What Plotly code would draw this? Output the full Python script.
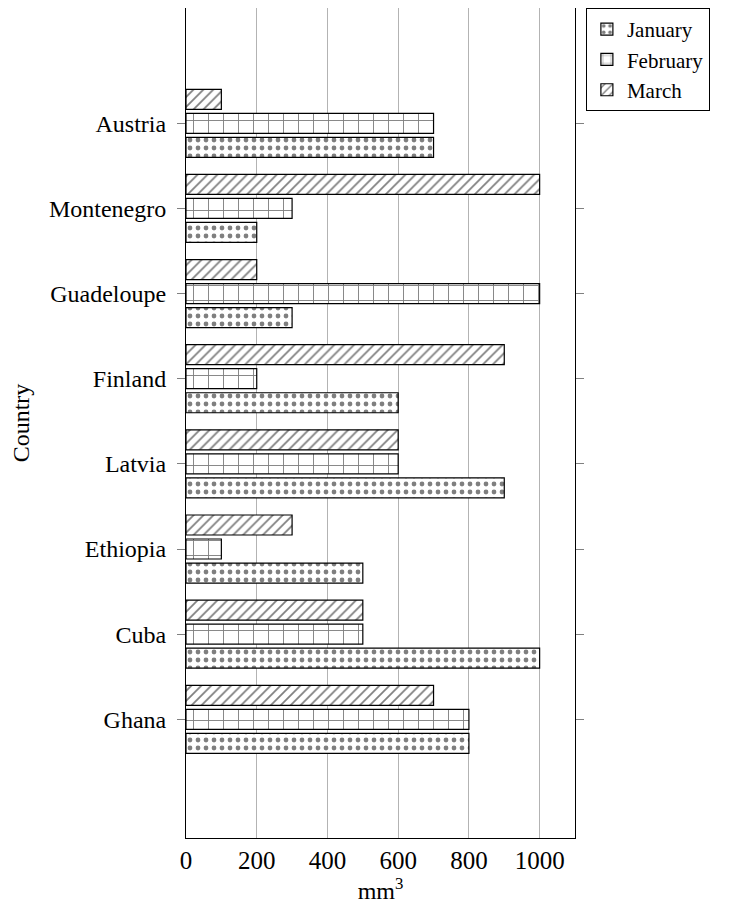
import plotly.graph_objects as go

countries = ["Ghana", "Cuba", "Ethiopia", "Latvia", "Finland", "Guadeloupe", "Montenegro", "Austria"]
january = [800, 1000, 500, 900, 600, 300, 200, 700]
february = [800, 500, 100, 600, 200, 1000, 300, 700]
march = [700, 500, 300, 600, 900, 200, 1000, 100]
x_ticks = [0, 200, 400, 600, 800, 1000]

FONT = "Liberation Serif"

series = [
    ("January", january, dict(shape=".", size=8, solidity=0.28)),
    ("February", february, dict(shape="+", size=15, solidity=0.12)),
    ("March", march, dict(shape="/", size=7, solidity=0.25)),
]

fig = go.Figure()
for name, vals, pat in series:
    fig.add_trace(go.Bar(
        y=countries, x=vals, name=name, orientation="h",
        marker=dict(color="white", line=dict(color="black", width=1.2),
                    pattern=dict(fgcolor="black", bgcolor="white", fillmode="overlay", **pat)),
    ))

fig.update_layout(
    width=730, height=911,
    margin=dict(l=178, r=163, t=0, b=81, autoexpand=False),
    plot_bgcolor="white", paper_bgcolor="white",
    barmode="group", bargap=0.154, bargroupgap=0.167,
    font=dict(family=FONT, size=24, color="black"),
    legend=dict(x=1.028, y=1.0, xanchor="left", yanchor="top",
                bordercolor="black", borderwidth=1, bgcolor="white",
                traceorder="normal", font=dict(size=21), tracegroupgap=0,
                itemwidth=30),
    showlegend=True,
)
fig.update_xaxes(
    range=[0, 1100], tickvals=x_ticks, ticktext=[str(v) for v in x_ticks],
    showgrid=True, gridcolor="#b3b3b3", gridwidth=1,
    showline=True, linecolor="black", linewidth=1, mirror=True,
    ticks="", tickfont=dict(size=25),
    title=dict(text="mm<sup>3</sup>", font=dict(size=24), standoff=4),
    zeroline=False,
)
fig.update_yaxes(
    type="category", categoryorder="array", categoryarray=countries,
    range=[-1.394, 8.354],
    showgrid=False, showline=True, linecolor="black", linewidth=1, mirror="ticks",
    ticks="outside", ticklen=8, tickcolor="#808080", tickwidth=1,
    ticklabelstandoff=6,
    tickfont=dict(size=24),
    title=dict(text="Country", font=dict(size=24), standoff=30),
)

fig.write_html("out.html")
